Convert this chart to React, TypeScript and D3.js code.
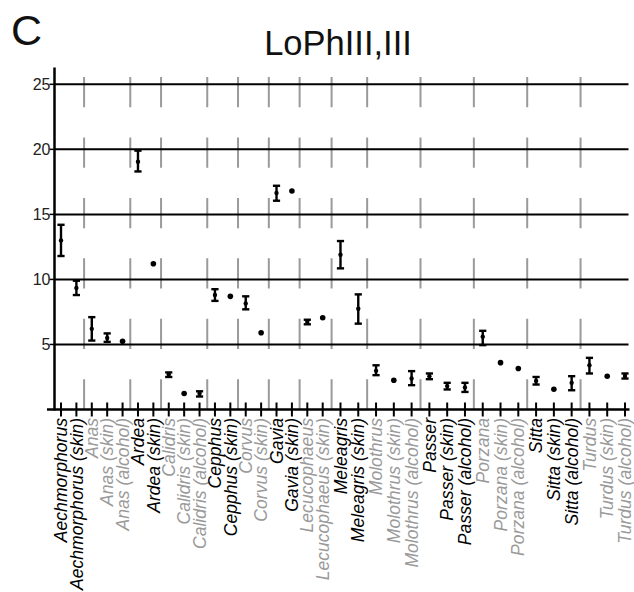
import React from "react";
import * as d3 from "d3";

const categories = [
  "Aechmorphorus", "Aechmorphorus (skin)",
  "Anas", "Anas (skin)", "Anas (alcohol)",
  "Ardea", "Ardea (skin)",
  "Calidris", "Calidris (skin)", "Calidris (alcohol)",
  "Cepphus", "Cepphus (skin)",
  "Corvus", "Corvus (skin)",
  "Gavia", "Gavia (skin)",
  "Lecucophaeus", "Lecucophaeus (skin)",
  "Meleagris", "Meleagris (skin)",
  "Molothrus", "Molothrus (skin)", "Molothrus (alcohol)",
  "Passer", "Passer (skin)", "Passer (alcohol)",
  "Porzana", "Porzana (skin)", "Porzana (alcohol)",
  "Sitta", "Sitta (skin)", "Sitta (alcohol)",
  "Turdus", "Turdus (skin)", "Turdus (alcohol)",
];

const means = [
  13.0, 9.35,
  6.2, 5.5, 5.25,
  19.05, 11.2,
  2.7, 1.23, 1.23,
  8.8, 8.7,
  8.15, 5.9,
  16.65, 16.8,
  6.75, 7.05,
  11.9, 7.75,
  2.97, 2.25, 2.38,
  2.56, 1.8, 1.7,
  5.6, 3.6, 3.15,
  2.2, 1.56, 2.05,
  3.4, 2.56, 2.58,
];

const lowers: (number | null)[] = [
  11.8, 8.8,
  5.3, 5.2, null,
  18.3, null,
  2.5, null, 1.0,
  8.35, null,
  7.7, null,
  16.05, null,
  6.55, null,
  10.85, 6.6,
  2.64, null, 1.87,
  2.33, 1.54, 1.35,
  4.95, null, null,
  1.92, null, 1.48,
  2.77, null, 2.38,
];

const uppers: (number | null)[] = [
  14.2, 9.9,
  7.1, 5.85, null,
  19.9, null,
  2.85, null, 1.4,
  9.25, null,
  8.7, null,
  17.2, null,
  6.9, null,
  12.95, 8.85,
  3.4, null, 2.95,
  2.77, 2.05, 2.05,
  6.05, null, null,
  2.5, null, 2.56,
  3.97, null, 2.77,
];

const yTicks = [5, 10, 15, 20, 25];
const title = "LoPhIII,III";
const panelLetter = "C";

const FONT = "'Liberation Sans', Arial, sans-serif";

export default function App() {
  const W = 634;
  const H = 592;
  const n = categories.length;
  const mid = Math.floor(n / 2);

  const x = d3.scaleLinear().domain([0, mid, n - 1]).range([61, 322.7, 625]);
  const y = d3.scaleLinear().domain([0, 25]).range([409.5, 84.3]);

  const axisX = 54.5;
  const gridRight = 628.5;
  const groupOf = (c: string) => c.split(" ")[0];
  const groupNames: string[] = [];
  categories.forEach((c) => {
    const g = groupOf(c);
    if (!groupNames.includes(g)) groupNames.push(g);
  });
  const groupIndex = (c: string) => groupNames.indexOf(groupOf(c));

  const separators: number[] = [];
  for (let i = 1; i < n; i++) {
    if (groupOf(categories[i]) !== groupOf(categories[i - 1])) {
      separators.push((x(i) + x(i - 1)) / 2);
    }
  }
  const sepTop = y(25.56);
  const sepBottom = y(0);
  const dash = (sepBottom - sepTop) / 11;

  return (
    <svg
      width={W}
      height={H}
      style={{ position: "absolute", left: 0, top: 0, background: "#fff" }}
    >
      <rect x={0} y={0} width={W} height={H} fill="#fff" />
      <text x={11} y={45} fontFamily={FONT} fontSize={43} fill="#111">
        {panelLetter}
      </text>
      <text
        x={338}
        y={55}
        fontFamily={FONT}
        fontSize={34.5}
        textAnchor="middle"
        fill="#111"
      >
        {title}
      </text>

      {separators.map((sx, i) => (
        <line
          key={"s" + i}
          x1={sx}
          x2={sx}
          y1={sepTop}
          y2={sepBottom}
          stroke="#9a9a9a"
          strokeWidth={2}
          strokeDasharray={`${dash},${dash}`}
        />
      ))}

      {yTicks.map((t) => (
        <g key={"g" + t}>
          <line
            x1={axisX}
            x2={gridRight}
            y1={y(t)}
            y2={y(t)}
            stroke="#000"
            strokeWidth={2}
          />
          <line
            x1={axisX - 5}
            x2={axisX}
            y1={y(t)}
            y2={y(t)}
            stroke="#000"
            strokeWidth={1.5}
          />
          <text
            x={axisX - 4}
            y={y(t)}
            dy="0.36em"
            textAnchor="end"
            fontFamily={FONT}
            fontSize={16}
            fill="#222"
          >
            {t}
          </text>
        </g>
      ))}

      <line
        x1={axisX}
        x2={axisX}
        y1={y(26.3)}
        y2={y(0) + 1}
        stroke="#000"
        strokeWidth={2.5}
      />
      <line
        x1={47}
        x2={gridRight + 1}
        y1={y(0)}
        y2={y(0)}
        stroke="#000"
        strokeWidth={2.5}
      />
      {categories.map((c, i) => (
        <line
          key={"t" + i}
          x1={x(i)}
          x2={x(i)}
          y1={y(0) - 7}
          y2={y(0) + 7}
          stroke="#000"
          strokeWidth={2}
        />
      ))}

      {categories.map((c, i) => {
        const lo = lowers[i];
        const hi = uppers[i];
        const cx = x(i);
        return (
          <g key={"d" + i}>
            {lo != null && hi != null && (
              <g stroke="#000" strokeWidth={2.4}>
                <line x1={cx} x2={cx} y1={y(lo)} y2={y(hi)} />
                <line x1={cx - 3.6} x2={cx + 3.6} y1={y(lo)} y2={y(lo)} />
                <line x1={cx - 3.6} x2={cx + 3.6} y1={y(hi)} y2={y(hi)} />
              </g>
            )}
            <circle
              cx={cx}
              cy={y(means[i])}
              r={lo != null ? 2.2 : 2.8}
              fill="#000"
            />
          </g>
        );
      })}

      {categories.map((c, i) => (
        <text
          key={"l" + i}
          transform={`translate(${x(i)},${y(0) + 8.5}) rotate(-90)`}
          dy="0.35em"
          textAnchor="end"
          fontFamily={FONT}
          fontStyle="italic"
          fontSize={17.6}
          fill={groupIndex(c) % 2 === 0 ? "#000" : "#9a9a9a"}
        >
          {c}
        </text>
      ))}
    </svg>
  );
}
